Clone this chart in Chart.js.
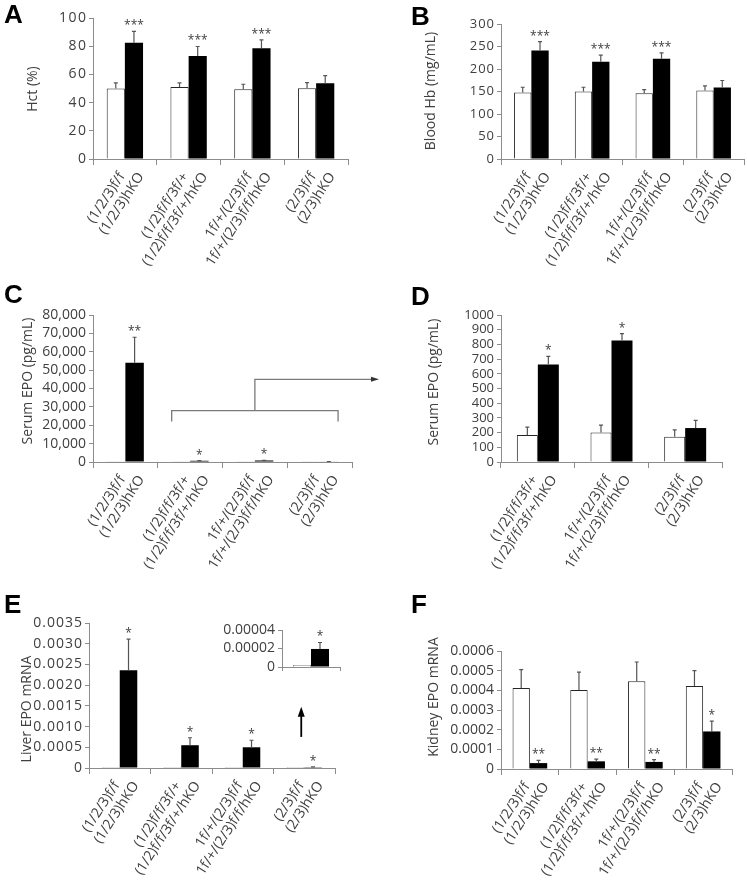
<!DOCTYPE html>
<html>
<head>
<meta charset="utf-8">
<script src="https://cdn.jsdelivr.net/npm/chart.js@4.4.1/dist/chart.umd.min.js"></script>
<style>
  html, body { margin:0; padding:0; background:#fff; }
  #fig { position:relative; width:747px; height:881px; overflow:hidden; background:#fff; }
  #fig canvas { position:absolute; }
</style>
</head>
<body>
<div id="fig"></div>
<script>
// ── genotype groups (two stacked label lines per pair of bars) ──
const GROUPS = [
  ['(1/2/3)f/f', '(1/2/3)hKO'],
  ['(1/2)f/f/3f/+', '(1/2)f/f/3f/+/hKO'],
  ['1f/+/(2/3)f/f', '1f/+/(2/3)f/f/hKO'],
  ['(2/3)f/f', '(2/3)hKO']
];

// A: Hct (%)
const HCT_WT = [50, 51, 49.5, 50.2];
const HCT_WT_ERR = [4, 3, 3.5, 4];
const HCT_KO = [82.5, 73, 78.5, 53.8];
const HCT_KO_ERR = [8, 6.8, 6, 5.4];
const HCT_SIG = ['***', '***', '***', ''];
const HCT_TICKS = [0, 20, 40, 60, 80, 100];

// B: Blood Hb (mg/mL)
const HB_WT = [148, 150, 146, 152];
const HB_WT_ERR = [11.5, 9.5, 8, 10.5];
const HB_KO = [241, 216, 223, 159];
const HB_KO_ERR = [20, 15, 13, 15.5];
const HB_SIG = ['***', '***', '***', ''];
const HB_TICKS = [0, 50, 100, 150, 200, 250, 300];

// C / D: Serum EPO (pg/mL)
const EPO_WT = [180, 183, 201, 172];
const EPO_WT_ERR = [50, 54, 50, 47];
const EPO_KO = [54000, 663, 826, 231];
const EPO_KO_ERR = [13900, 56, 47, 52];
const EPO_SIG_C = ['**', '*', '*', ''];
const EPO_SIG_D = ['*', '*', ''];
const EPO_TICKS_C = [0, 10000, 20000, 30000, 40000, 50000, 60000, 70000, 80000];
const EPO_TICKS_D = [0, 100, 200, 300, 400, 500, 600, 700, 800, 900, 1000];

// E: Liver EPO mRNA (+ inset for the (2/3) pair)
const LIVER_WT = [0.000001, 0.000001, 0.000001, 0.000002];
const LIVER_WT_ERR = [0, 0, 0, 0];
const LIVER_KO = [0.00236, 0.00055, 0.0005, 0.0000195];
const LIVER_KO_ERR = [0.00075, 0.00018, 0.00017, 0.000007];
const LIVER_SIG = ['*', '*', '*', '*'];
const LIVER_TICKS = [0, 0.0005, 0.001, 0.0015, 0.002, 0.0025, 0.003, 0.0035];
const INSET_WT = [0.000002];
const INSET_KO = [0.0000195];
const INSET_KO_ERR = [0.000007];
const INSET_TICKS = [0, 0.00002, 0.00004];

// F: Kidney EPO mRNA
const KIDNEY_WT = [0.000412, 0.000402, 0.000446, 0.000422];
const KIDNEY_WT_ERR = [0.000093, 0.000091, 0.000098, 0.000078];
const KIDNEY_KO = [0.00003, 0.000039, 0.000036, 0.000191];
const KIDNEY_KO_ERR = [0.000014, 0.000011, 0.000012, 0.000052];
const KIDNEY_SIG = ['**', '**', '**', '*'];
const KIDNEY_TICKS = [0, 0.0001, 0.0002, 0.0003, 0.0004, 0.0005, 0.0006];

const AXIS = '#8c8c8c', TXT = '#404040', FONT = "'Open Sans', sans-serif";
const LABEL_ANGLE = -57 * Math.PI / 180;

function arrowHead(ctx, x, y, dx, dy, len, half) {
  // filled triangle with its tip at (x,y), pointing along (dx,dy)
  const px = -dy, py = dx;
  ctx.beginPath();
  ctx.moveTo(x, y);
  ctx.lineTo(x - dx * len + px * half, y - dy * len + py * half);
  ctx.lineTo(x - dx * len - px * half, y - dy * len - py * half);
  ctx.closePath();
  ctx.fill();
}

function panel(s) {
  const [bl, bt, bw, bh] = s.box;
  const [L, T, R, B] = s.plot;
  const cv = document.createElement('canvas');
  cv.width = bw; cv.height = bh;
  cv.style.left = bl + 'px'; cv.style.top = bt + 'px';
  document.getElementById('fig').appendChild(cv);

  const errs = [s.wtErr || [], s.koErr || []];
  const sigs = [[], s.sig || []];

  const marks = {
    id: 'marks',
    // the source figure's tick numbers are set a little wider than Open Sans
    beforeDraw(chart) { chart.ctx.letterSpacing = (s.ls || 0) + 'px'; },
    beforeDatasetsDraw(chart) { chart.ctx.letterSpacing = '0px'; },
    afterDraw(chart) {
      const ctx = chart.ctx, ys = chart.scales.y, xs = chart.scales.x;
      const base = ys.getPixelForValue(0);
      ctx.save();
      ctx.letterSpacing = '0px';
      // error bars (upper only) + significance stars
      [0, 1].forEach(di => {
        const meta = chart.getDatasetMeta(di);
        const vals = chart.data.datasets[di].data;
        meta.data.forEach((bar, j) => {
          const e = errs[di][j] || 0;
          let top = bar.y;
          if (e > 0) {
            top = ys.getPixelForValue(vals[j] + e);
            ctx.strokeStyle = '#555'; ctx.lineWidth = 1.2;
            ctx.beginPath();
            ctx.moveTo(bar.x, bar.y); ctx.lineTo(bar.x, top);
            ctx.moveTo(bar.x - 2, top); ctx.lineTo(bar.x + 2, top);
            ctx.stroke();
          }
          const sg = sigs[di][j];
          if (sg) {
            ctx.fillStyle = TXT; ctx.font = '12px ' + FONT;
            ctx.textAlign = 'center'; ctx.textBaseline = 'alphabetic';
            ctx.fillText(sg, bar.x, top - 2);
          }
        });
      });
      // rotated two-line category labels
      if (s.labels) {
        ctx.fillStyle = TXT; ctx.font = '14px ' + FONT;
        ctx.textAlign = 'right'; ctx.textBaseline = 'middle';
        s.labels.forEach((lines, j) => {
          const cx = xs.getPixelForValue(j);
          lines.forEach((ln, i) => {
            ctx.save();
            ctx.translate(cx - 3 + i * 19, base + 15);
            ctx.rotate(LABEL_ANGLE);
            ctx.fillText(ln, 0, 0);
            ctx.restore();
          });
        });
      }
      // y title
      if (s.title) {
        ctx.save();
        ctx.fillStyle = TXT; ctx.font = '14px ' + FONT;
        ctx.textAlign = 'center'; ctx.textBaseline = 'middle';
        ctx.translate(s.title[1] - bl, s.title[2] - bt);
        ctx.rotate(-Math.PI / 2);
        ctx.fillText(s.title[0], 0, 0);
        ctx.restore();
      }
      // panel letter
      if (s.letter) {
        ctx.fillStyle = '#000'; ctx.font = "bold 26px 'Liberation Sans', Arial, sans-serif";
        ctx.textAlign = 'left'; ctx.textBaseline = 'alphabetic';
        ctx.fillText(s.letter[0], s.letter[1] - bl, s.letter[2] - bt);
      }
      if (s.extra) s.extra(chart, ctx, bl, bt);
      ctx.restore();
    }
  };

  const cats = s.labels ? s.labels.map(l => l.join(' ')) : [''];
  new Chart(cv, {
    type: 'bar',
    data: {
      labels: cats,
      datasets: [
        { data: s.wt, backgroundColor: '#fff', borderColor: '#262626', borderWidth: 1,
          categoryPercentage: s.cat || 0.57, barPercentage: 1 },
        { data: s.ko, backgroundColor: '#000', borderColor: '#000', borderWidth: 0,
          categoryPercentage: s.cat || 0.57, barPercentage: 1 }
      ]
    },
    options: {
      responsive: false, animation: false, devicePixelRatio: 1, events: [],
      layout: { padding: { left: 0, top: T - bt, right: bl + bw - R, bottom: 0 } },
      plugins: { legend: { display: false }, tooltip: { enabled: false } },
      scales: {
        x: {
          grid: { display: true, drawOnChartArea: false, drawTicks: true, tickLength: s.xTick || 6, color: AXIS, offset: true },
          border: { color: AXIS, width: 1 },
          ticks: { display: false },
          afterFit: sc => { sc.height = bt + bh - B; }
        },
        y: {
          min: s.ticks[0], max: s.ticks[s.ticks.length - 1],
          afterBuildTicks: sc => { sc.ticks = s.ticks.map(v => ({ value: v })); },
          ticks: { autoSkip: false, color: TXT, padding: 3 - (s.ls || 0), font: { family: FONT, size: s.tickSize || 14 },
                   callback: v => s.fmt(v) },
          grid: { drawOnChartArea: false, drawTicks: true, tickLength: 4, color: AXIS },
          border: { color: AXIS, width: 1 },
          afterFit: sc => { sc.width = L - bl; }
        }
      }
    },
    plugins: [marks]
  });
}

const plain = v => String(v);
const fixed = n => v => (v === 0 ? '0' : v.toFixed(n));

panel({ box: [0, 0, 374, 290], plot: [93, 18, 348, 159], labels: GROUPS,
  wt: HCT_WT, wtErr: HCT_WT_ERR, ko: HCT_KO, koErr: HCT_KO_ERR, sig: HCT_SIG,
  ticks: HCT_TICKS, fmt: plain, tickSize: 14, ls: 1.5,
  title: ['Hct (%)', 33, 89], letter: ['A', 4, 23] });

panel({ box: [374, 0, 373, 290], plot: [501, 24, 744, 159], labels: GROUPS,
  wt: HB_WT, wtErr: HB_WT_ERR, ko: HB_KO, koErr: HB_KO_ERR, sig: HB_SIG,
  ticks: HB_TICKS, fmt: plain, tickSize: 13, ls: 1,
  title: ['Blood Hb (mg/mL)', 431, 91], letter: ['B', 411, 25] });

panel({ box: [0, 272, 400, 318], plot: [93, 315, 352, 462], labels: GROUPS,
  wt: EPO_WT, wtErr: [], ko: EPO_KO, koErr: EPO_KO_ERR, sig: EPO_SIG_C,
  ticks: EPO_TICKS_C, fmt: v => v.toLocaleString('en-US'), tickSize: 14,
  title: ['Serum EPO (pg/mL)', 28, 381], letter: ['C', 4, 303],
  extra: (chart, ctx) => {
    // bracket over the three low groups, arrow out to panel D
    const ys = chart.scales.y;
    const w0 = chart.getDatasetMeta(0).data[1], k3 = chart.getDatasetMeta(1).data[3];
    const x0 = w0.x - w0.width / 2, x1 = k3.x + k3.width / 2, xm = (x0 + x1) / 2;
    const yb = ys.getPixelForValue(28000), yd = ys.getPixelForValue(22000), yt = ys.getPixelForValue(45000);
    ctx.strokeStyle = '#7a7a7a'; ctx.lineWidth = 1.3;
    ctx.beginPath();
    ctx.moveTo(x0, yd); ctx.lineTo(x0, yb); ctx.lineTo(x1, yb); ctx.lineTo(x1, yd);
    ctx.moveTo(xm, yb); ctx.lineTo(xm, yt); ctx.lineTo(372, yt);
    ctx.stroke();
    ctx.fillStyle = '#333';
    arrowHead(ctx, 379, yt, 1, 0, 8, 2.5);
  } });

panel({ box: [400, 272, 347, 318], plot: [501, 315, 722, 462], labels: GROUPS.slice(1),
  wt: EPO_WT.slice(1), wtErr: EPO_WT_ERR.slice(1), ko: EPO_KO.slice(1), koErr: EPO_KO_ERR.slice(1), sig: EPO_SIG_D,
  ticks: EPO_TICKS_D, fmt: plain, tickSize: 13,
  title: ['Serum EPO (pg/mL)', 434, 382], letter: ['D', 411, 305] });

panel({ box: [0, 590, 374, 291], plot: [89, 623, 335, 768], labels: GROUPS,
  wt: LIVER_WT, wtErr: LIVER_WT_ERR, ko: LIVER_KO, koErr: LIVER_KO_ERR, sig: LIVER_SIG,
  ticks: LIVER_TICKS, fmt: fixed(4), tickSize: 14, ls: 1,
  title: ['Liver EPO mRNA', 27, 709], letter: ['E', 4, 613],
  extra: (chart, ctx) => {
    // arrow pointing up to the inset
    const xs = chart.scales.x, ys = chart.scales.y;
    const ax = xs.getPixelForValue(3) - 3;
    const y0 = ys.getPixelForValue(0.00075), y1 = ys.getPixelForValue(0.00148);
    ctx.strokeStyle = '#000'; ctx.lineWidth = 1.8;
    ctx.beginPath(); ctx.moveTo(ax, y0); ctx.lineTo(ax, y1 + 8); ctx.stroke();
    ctx.fillStyle = '#000';
    arrowHead(ctx, ax, y1, 0, -1, 10, 3.5);
  } });

panel({ box: [200, 612, 150, 72], plot: [282, 630, 340, 667], labels: null, cat: 0.62, xTick: 4,
  wt: INSET_WT, wtErr: [], ko: INSET_KO, koErr: INSET_KO_ERR, sig: ['*'],
  ticks: INSET_TICKS, fmt: fixed(5), tickSize: 14 });

panel({ box: [374, 590, 373, 291], plot: [501, 651, 732, 769], labels: GROUPS, cat: 0.6,
  wt: KIDNEY_WT, wtErr: KIDNEY_WT_ERR, ko: KIDNEY_KO, koErr: KIDNEY_KO_ERR, sig: KIDNEY_SIG,
  ticks: KIDNEY_TICKS, fmt: fixed(4), tickSize: 14,
  title: ['Kidney EPO mRNA', 434, 697], letter: ['F', 411, 613] });
</script>
</body>
</html>
